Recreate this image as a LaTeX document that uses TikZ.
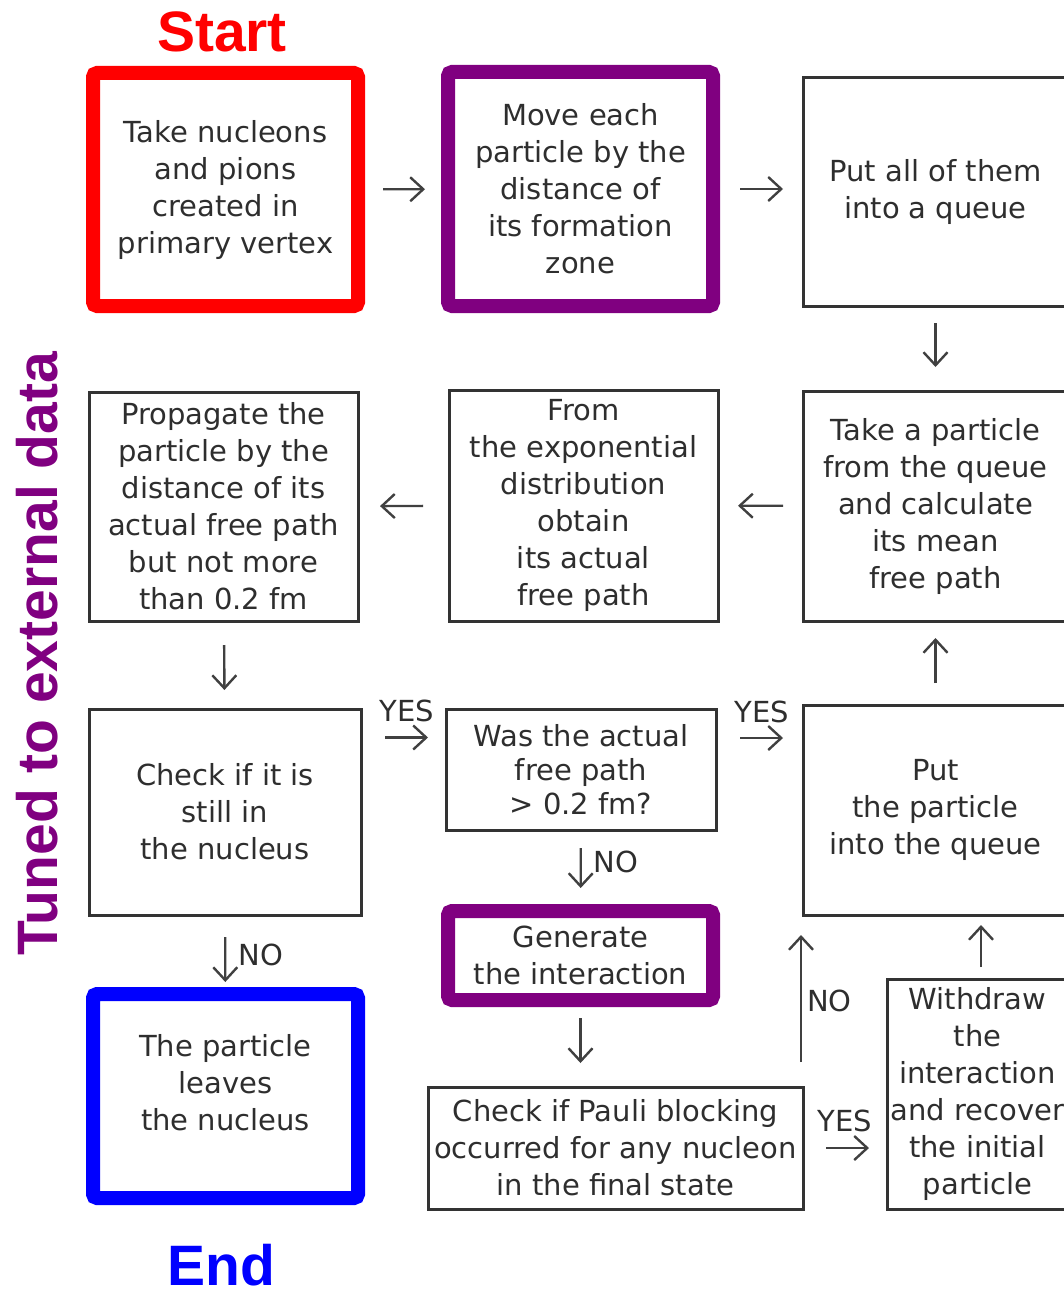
\documentclass[tikz,border=0pt]{standalone}
\usepackage{fontspec}
\setmainfont{DejaVu Sans}
\newfontfamily\headfont{Liberation Sans}
\usetikzlibrary{arrows.meta}

\definecolor{startred}{RGB}{255,0,0}
\definecolor{endblue}{RGB}{0,0,255}
\definecolor{tunedpurple}{RGB}{128,0,128}
\newcommand{\boxfont}{\fontsize{29pt}{37pt}\selectfont}
\newcommand{\headsize}{\headfont\bfseries\fontsize{57pt}{60pt}\selectfont}

\tikzset{
  box/.style={draw=black!80, line width=3pt, inner sep=0pt, outer sep=0pt,
    align=center, text=black!82, font=\boxfont},
  keybox/.style={box, line width=14pt, rounded corners=4pt},
  arr/.style={draw=black!75, line width=2.4pt,
    -{Straight Barb[length=13pt,width=24pt]}},
  tag/.style={inner sep=0pt, text=black!82, font=\boxfont},
  head/.style={inner sep=0pt, font=\headsize},
}

\begin{document}
\begin{tikzpicture}[x=1pt,y=-1pt]
    \useasboundingbox (0,0) rectangle (1064,1292);

    % top row
    \node[keybox,draw=startred,minimum width=265pt,minimum height=233pt] (take) at (225.5,189.5) {Take nucleons\\and pions\\created in\\primary vertex};
    \node[keybox,draw=tunedpurple,minimum width=265pt,minimum height=234pt] (move) at (580.5,189) {Move each\\particle by the\\distance of\\its formation\\zone};
    \node[box,minimum width=265pt,minimum height=228pt] (queue) at (935.5,192) {Put all of them\\into a queue};

    % second row
    \node[box,minimum width=265pt,minimum height=230pt] (mean) at (935.5,506) {Take a particle\\from the queue\\and calculate\\its mean\\free path};
    \node[box,minimum width=269pt,minimum height=231pt] (expo) at (583.5,505.5) {From\\the exponential\\distribution\\obtain\\its actual\\free path};
    \node[box,minimum width=269pt,minimum height=229pt] (prop) at (223.5,506.5) {Propagate the\\particle by the\\distance of its\\actual free path\\but not more\\than 0.2 fm};

    % third row
    \node[box,minimum width=272pt,minimum height=206pt] (inside) at (225,812) {Check if it is\\still in\\the nucleus};
    \node[box,minimum width=270pt,minimum height=121pt,font=\fontsize{29pt}{34pt}\selectfont] (longer) at (581,769.5) {Was the actual\\free path\\> 0.2 fm?};
    \node[box,minimum width=265pt,minimum height=210pt] (requeue) at (935.5,810) {Put\\the particle\\into the queue};

    % bottom row
    \node[keybox,draw=tunedpurple,minimum width=265pt,minimum height=89pt] (gen) at (580.5,955.5) {Generate\\the interaction};
    \node[keybox,draw=endblue,minimum width=265pt,minimum height=204pt,text depth=28pt] (leave) at (225.5,1096) {The particle\\leaves\\the nucleus};
    \node[box,minimum width=375pt,minimum height=122pt] (pauli) at (615.5,1148) {Check if Pauli blocking\\occurred for any nucleon\\in the final state};
    \node[box,minimum width=181pt,minimum height=230pt] (withdraw) at (977.5,1094) {Withdraw\\the\\interaction\\and recover\\the initial\\particle};

    % headings
    \node[head,text=startred] (start) at (222,32) {Start};
    \node[head,text=endblue] (finish) at (221,1265) {End};
    \node[head,text=tunedpurple,rotate=90] (tuned) at (37,654) {Tuned to external data};

    % connectors
    \draw[arr,shorten <=25pt,shorten >=23pt] (take) -- (move);
    \draw[arr,shorten <=27pt,shorten >=20pt] (move.east) -- (move.east -| queue.west);
    \draw[arr,shorten <=17pt,shorten >=24pt] (queue) -- (mean);
    \draw[arr,shorten <=20pt,shorten >=20pt] (mean) -- (expo);
    \draw[arr,shorten <=26pt,shorten >=22pt] (expo) -- (prop);
    \draw[arr,shorten <=24pt,shorten >=19pt] (prop) -- (inside);
    \draw[arr] ([xshift=24pt,yshift=32pt]inside.east |- longer.west) -- node[tag,above=14pt]{YES} ([xshift=-18pt,yshift=32pt]longer.west);
    \draw[arr] ([xshift=24pt,yshift=31.5pt]longer.east) -- node[tag,above=14pt]{YES} ([xshift=-20pt,yshift=31.5pt]longer.east -| requeue.west);
    \draw[arr,shorten <=22pt,shorten >=17pt] (requeue) -- (mean);
    \draw[arr,shorten <=18pt,shorten >=23pt] (longer) -- node[tag,pos=0.4,right=12pt]{NO} (gen);
    \draw[arr,shorten <=22pt,shorten >=12pt] (inside) -- node[tag,pos=0.5,right=12pt]{NO} (leave);
    \draw[arr,shorten <=18pt,shorten >=24pt] (gen.south) -- (gen.south |- pauli.north);
    \draw[arr,shorten <=23pt,shorten >=18pt] (pauli.east) -- node[tag,above=15pt]{YES} (pauli.east -| withdraw.west);
    \draw[arr,shorten <=25pt,shorten >=20pt] ([xshift=-2pt]pauli.north east) -- node[tag,pos=0.5,right=5pt]{NO} ([xshift=-2pt]pauli.north east |- requeue.south);
    \draw[arr,shorten <=12pt,shorten >=10pt] ([xshift=3.5pt]withdraw.north) -- ([xshift=3.5pt]withdraw.north |- requeue.south);
\end{tikzpicture}
\end{document}
